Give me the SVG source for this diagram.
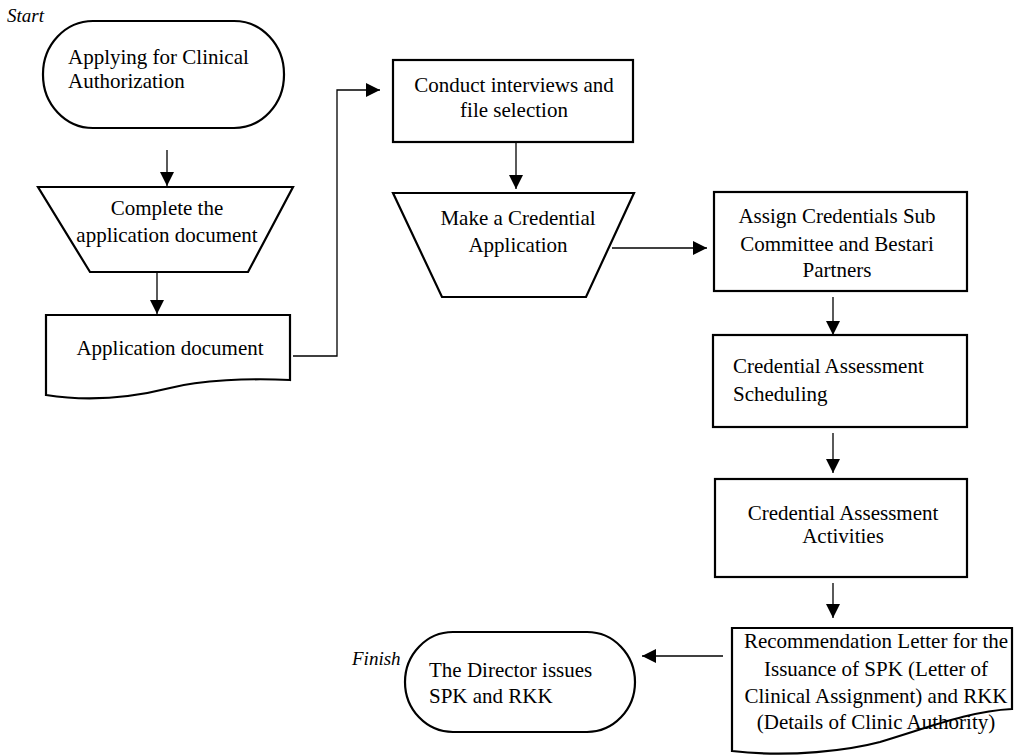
<svg xmlns="http://www.w3.org/2000/svg" width="1027" height="755" viewBox="0 0 1027 755">
<style>
.shape{fill:#fff;stroke:#000;stroke-width:2.2}
.t{font-family:"Liberation Serif","Times New Roman",serif;font-size:21px;fill:#000}
.c{text-anchor:middle}
.lbl{font-family:"Liberation Serif","Times New Roman",serif;font-size:19px;font-style:italic;fill:#000}
.conn{fill:none;stroke:#000;stroke-width:1.3}
</style>
<defs>
<marker id="arr" viewBox="0 0 14 14" markerWidth="14" markerHeight="14" refX="14" refY="7" markerUnits="userSpaceOnUse" orient="auto">
<path d="M0,0 L14,7 L0,14 Z" fill="#000"/>
</marker>
</defs>
<rect width="1027" height="755" fill="#fff"/>
<text class="lbl" x="7" y="22">Start</text>
<text class="lbl" x="352" y="665">Finish</text>
<g id="connectors">
<line class="conn" x1="167" y1="150" x2="167" y2="186" marker-end="url(#arr)"/>
<line class="conn" x1="157" y1="272" x2="157" y2="314" marker-end="url(#arr)"/>
<polyline class="conn" points="293,356 337,356 337,90 380,90" marker-end="url(#arr)"/>
<line class="conn" x1="516" y1="142" x2="516" y2="189" marker-end="url(#arr)"/>
<line class="conn" x1="612" y1="248" x2="707" y2="248" marker-end="url(#arr)"/>
<line class="conn" x1="833" y1="297" x2="833" y2="335" marker-end="url(#arr)"/>
<line class="conn" x1="833" y1="433" x2="833" y2="473" marker-end="url(#arr)"/>
<line class="conn" x1="833" y1="583" x2="833" y2="618" marker-end="url(#arr)"/>
<line class="conn" x1="723" y1="656" x2="642" y2="656" marker-end="url(#arr)"/>
</g>
<g id="n1">
<rect class="shape" x="43" y="21" width="241" height="107" rx="50" ry="53"/>
<text class="t" x="68" y="64">Applying for Clinical</text>
<text class="t" x="68" y="88">Authorization</text>
</g>
<g id="n2">
<polygon class="shape" points="38,187 293,187 248,272 90,272"/>
<text class="t c" x="167" y="215">Complete the</text>
<text class="t c" x="167" y="242">application document</text>
</g>
<g id="n3">
<path class="shape" d="M46,315 H290 V380 C250,378 200,380 170,388 C130,398 90,402 46,395 Z"/>
<text class="t c" x="170" y="355">Application document</text>
</g>
<g id="n4">
<rect class="shape" x="393" y="60" width="240" height="82"/>
<text class="t c" x="514" y="92">Conduct interviews and</text>
<text class="t c" x="514" y="117">file selection</text>
</g>
<g id="n5">
<polygon class="shape" points="393,193 634,193 586,297 442,297"/>
<text class="t c" x="518" y="225">Make a Credential</text>
<text class="t c" x="518" y="252">Application</text>
</g>
<g id="n6">
<rect class="shape" x="714" y="192" width="253" height="99"/>
<text class="t c" x="837" y="223">Assign Credentials Sub</text>
<text class="t c" x="837" y="251">Committee and Bestari</text>
<text class="t c" x="837" y="277">Partners</text>
</g>
<g id="n7">
<rect class="shape" x="713" y="335" width="254" height="92"/>
<text class="t" x="733" y="373">Credential Assessment</text>
<text class="t" x="733" y="401">Scheduling</text>
</g>
<g id="n8">
<rect class="shape" x="715" y="479" width="252" height="98"/>
<text class="t c" x="843" y="520">Credential Assessment</text>
<text class="t c" x="843" y="543">Activities</text>
</g>
<g id="n9">
<path class="shape" d="M732,628 H1012 V709 C970,711 930,727 880,742 C850,750 790,758 732,751 Z"/>
<text class="t c" x="876" y="648">Recommendation Letter for the</text>
<text class="t c" x="876" y="676">Issuance of SPK (Letter of</text>
<text class="t c" x="876" y="703">Clinical Assignment) and RKK</text>
<text class="t c" x="876" y="729">(Details of Clinic Authority)</text>
</g>
<g id="n10">
<rect class="shape" x="405" y="632" width="230" height="100" rx="48" ry="50"/>
<text class="t" x="429" y="677">The Director issues</text>
<text class="t" x="429" y="703">SPK and RKK</text>
</g>
</svg>
